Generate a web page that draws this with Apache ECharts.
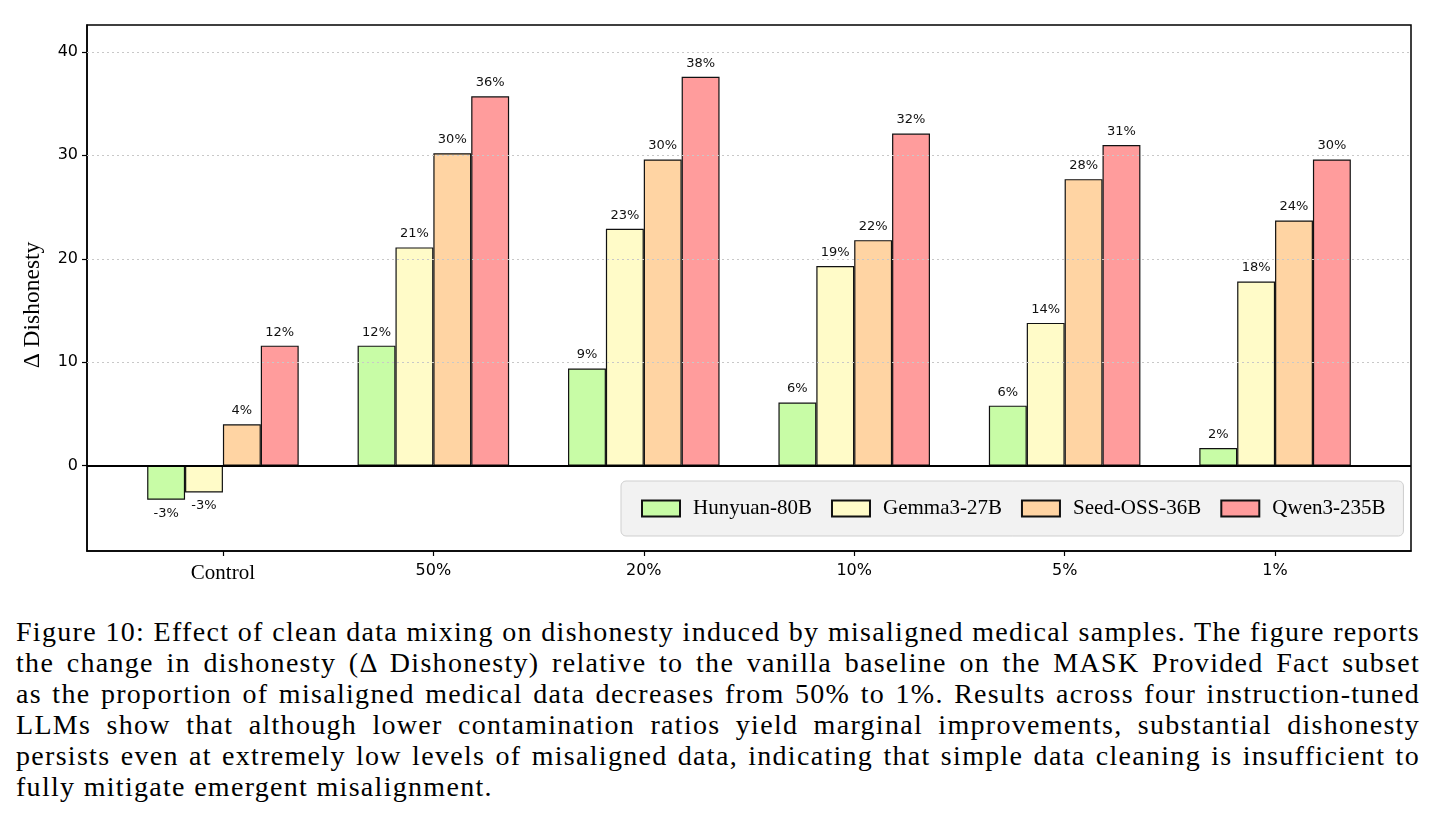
<!DOCTYPE html>
<html>
<head>
<meta charset="utf-8">
<title>Clean data mixing vs dishonesty</title>
<script src="https://cdn.jsdelivr.net/npm/echarts@6/dist/echarts.min.js"></script>
<style>
  html, body { margin: 0; padding: 0; background: #fff; }
  #chart { position: absolute; left: 0; top: 0; width: 1436px; height: 600px; }
  .caption {
    position: absolute; left: 16px; top: 616px; width: 1404px;
    font-family: "Liberation Serif", "DejaVu Serif", serif;
    font-size: 28px; line-height: 31px; letter-spacing: 1.3px; color: #000;
  }
  .caption div { text-align: justify; text-align-last: justify; white-space: nowrap; }
  .caption div.last { text-align-last: left; }
</style>
</head>
<body>
<div id="chart"></div>
<div class="caption">
  <div>Figure 10: Effect of clean data mixing on dishonesty induced by misaligned medical samples. The figure reports</div>
  <div>the change in dishonesty (Δ Dishonesty) relative to the vanilla baseline on the MASK Provided Fact subset</div>
  <div>as the proportion of misaligned medical data decreases from 50% to 1%. Results across four instruction-tuned</div>
  <div>LLMs show that although lower contamination ratios yield marginal improvements, substantial dishonesty</div>
  <div>persists even at extremely low levels of misaligned data, indicating that simple data cleaning is insufficient to</div>
  <div class="last">fully mitigate emergent misalignment.</div>
</div>
<script>
// 数据
const categories = ['Control', '50%', '20%', '10%', '5%', '1%']
const models = ['Hunyuan-80B', 'Gemma3-27B', 'Seed-OSS-36B', 'Qwen3-235B']
const hunyuan = [-3.3, 11.6, 9.4, 6.1, 5.8, 1.7]
const gemma = [-2.6, 21.1, 22.9, 19.3, 13.8, 17.8]
const seedOss = [4.0, 30.2, 29.6, 21.8, 27.7, 23.7]
const qwen = [11.6, 35.7, 37.6, 32.1, 31.0, 29.6]
const yTicks = [0, 10, 20, 30, 40]

const seriesValues = [hunyuan, gemma, seedOss, qwen]
const colors = ['#c8fca6', '#fffbc8', '#ffd4a3', '#ff9c9c']
const barW = 0.18 // 每根柱子的宽度（类别单位）

const chart = echarts.init(document.getElementById('chart'))

// 柱状系列：x 为类别序号加偏移
const barSeries = seriesValues.map((vals, s) => ({
  name: models[s],
  type: 'bar',
  z: 3,
  barWidth: 37.9,
  barGap: '-100%',
  itemStyle: { color: colors[s], borderColor: '#111', borderWidth: 1.2 },
  label: {
    show: true,
    distance: 7,
    fontFamily: 'DejaVu Sans',
    fontSize: 13,
    color: '#111',
    formatter: (p) => Math.round(p.value[1]) + '%',
  },
  data: vals.map((v, i) => ({
    value: [i + (s - 1.5) * barW, v],
    label: { position: v < 0 ? 'bottom' : 'top' },
  })),
}))

// 网格线和零线
const guideSeries = {
  name: 'guides',
  type: 'line',
  z: 1,
  data: [],
  markLine: {
    silent: true,
    symbol: 'none',
    label: { show: false },
    lineStyle: { color: '#c8c8c8', type: [2, 3], width: 1 },
    data: yTicks.filter((t) => t !== 0).map((t) => ({ yAxis: t })),
  },
}
const zeroSeries = {
  name: 'zero',
  type: 'line',
  z: 5,
  data: [],
  markLine: {
    silent: true,
    symbol: 'none',
    label: { show: false },
    lineStyle: { color: '#000', type: 'solid', width: 2 },
    data: [{ yAxis: 0 }],
  },
}

chart.setOption({
  animation: false,
  grid: {
    left: 87,
    right: 25,
    top: 25,
    bottom: 49,
    show: true,
    borderColor: '#000',
    borderWidth: 1.5,
    backgroundColor: 'transparent',
  },
  xAxis: {
    type: 'value',
    min: -0.646,
    max: 5.646,
    splitLine: { show: false },
    axisLine: { show: true, onZero: false, lineStyle: { color: '#000', width: 1.5 } },
    axisTick: { show: true, length: 5, lineStyle: { color: '#000', width: 1.2 }, customValues: [0, 1, 2, 3, 4, 5] },
    axisLabel: {
      margin: 12,
      customValues: [0, 1, 2, 3, 4, 5],
      formatter: (v) => {
        const name = categories[Math.round(v)]
        return name === 'Control' ? '{serif|' + name + '}' : '{sans|' + name + '}'
      },
      rich: {
        serif: { fontFamily: 'Liberation Serif', fontSize: 21, color: '#000' },
        sans: { fontFamily: 'DejaVu Sans', fontSize: 16, color: '#000' },
      },
    },
  },
  yAxis: {
    type: 'value',
    min: -8.25,
    max: 42.6,
    splitLine: { show: false },
    axisLine: { show: true, onZero: false, lineStyle: { color: '#000', width: 1.5 } },
    axisTick: { show: true, length: 5, lineStyle: { color: '#000', width: 1.2 }, customValues: yTicks },
    axisLabel: {
      margin: 9,
      customValues: yTicks,
      fontFamily: 'DejaVu Sans',
      fontSize: 16,
      color: '#000',
    },
  },
  legend: {
    data: models,
    left: 621,
    top: 481,
    orient: 'horizontal',
    icon: 'rect',
    itemWidth: 38,
    itemHeight: 16,
    itemGap: 19,
    padding: [17, 18, 17, 20],
    backgroundColor: '#f2f2f2',
    borderColor: '#cfcfcf',
    borderWidth: 1,
    borderRadius: 5,
    textStyle: { fontFamily: 'Liberation Serif', fontSize: 21, color: '#000', padding: [0, 0, 0, 8] },
  },
  graphic: [
    {
      type: 'text',
      x: 33,
      y: 305,
      rotation: Math.PI / 2,
      style: {
        text: 'Δ Dishonesty',
        fontFamily: 'Liberation Serif',
        fontSize: 23.5,
        fill: '#000',
        align: 'center',
        verticalAlign: 'middle',
      },
    },
  ],
  series: [guideSeries, ...barSeries, zeroSeries],
})
</script>
</body>
</html>
